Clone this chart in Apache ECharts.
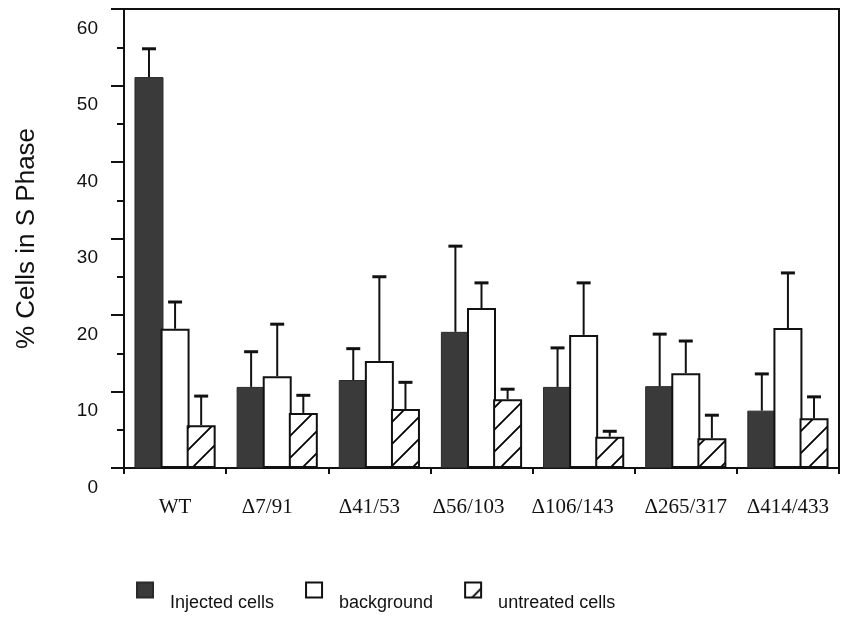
<!DOCTYPE html>
<html lang="en">
<head>
    <meta charset="UTF-8">
    <title>% Cells in S Phase</title>
    <script src="https://cdn.jsdelivr.net/npm/echarts@6/dist/echarts.min.js"></script>
    <style>
        html,body{margin:0;padding:0;background:#fff;}
        #main{width:843px;height:627px;}
    </style>
</head>
<body>
<div id="main"></div>
<script>
    var categories=['WT','\u03947/91','\u039441/53','\u039456/103','\u0394106/143','\u0394265/317','\u0394414/433'];
    var injected=[51.1,10.6,11.5,17.8,10.6,10.7,7.5];
    var injectedErr=[3.7,4.6,4.1,11.2,5.1,6.8,4.8];
    var background=[18.2,12.0,14.0,20.9,17.4,12.4,18.3];
    var backgroundErr=[3.5,6.8,11.0,3.3,6.8,4.2,7.2];
    var untreated=[5.6,7.2,7.7,9.0,4.1,3.9,6.5];
    var untreatedErr=[3.8,2.3,3.5,1.3,0.7,3.0,2.8];
    var yTicks=[0,10,20,30,40,50,60];

    // hatch tile "/"
    function hatch(){
        var s=22;
        var c=document.createElement('canvas');
        c.width=s;c.height=s;
        var ctx=c.getContext('2d');
        ctx.fillStyle='#fff';
        ctx.fillRect(0,0,s,s);
        ctx.strokeStyle='#000';
        ctx.lineWidth=1.8;
        ctx.beginPath();
        ctx.moveTo(-2,2);ctx.lineTo(2,-2);
        ctx.moveTo(0,s);ctx.lineTo(s,0);
        ctx.moveTo(s-2,s+2);ctx.lineTo(s+2,s-2);
        ctx.stroke();
        return c;
    }

    var barWidth=29, barGap=-0.1;
    var step=barWidth*(1+barGap);

    // labels in the scan sit a little left of the group centre for the middle groups
    var labelNudge={1:'l20',2:'l20',3:'l26',4:'l22'};

    function errSeries(vals,errs,offset){
        var data=[];
        for(var i=0;i<vals.length;i++){
            data.push([i,vals[i],vals[i]+errs[i]]);
        }
        return {
            type:'custom',
            silent:true,
            z:5,
            data:data,
            renderItem:function(params,api){
                var lo=api.coord([api.value(0),api.value(1)]);
                var hi=api.coord([api.value(0),api.value(2)]);
                var x=lo[0]+offset;
                return {
                    type:'group',
                    children:[
                        {type:'line',shape:{x1:x,y1:lo[1],x2:x,y2:hi[1]},style:{stroke:'#111',lineWidth:2}},
                        {type:'line',shape:{x1:x-7,y1:hi[1],x2:x+7,y2:hi[1]},style:{stroke:'#111',lineWidth:3}}
                    ]
                };
            }
        };
    }

    var serif='Liberation Serif, Times New Roman, serif';
    var myCharts=echarts.init(document.getElementById('main'));
    var option={
        animation:false,
        textStyle:{fontFamily:'Liberation Sans, Arial, sans-serif',color:'#000'},
        grid:{
            left:124,
            right:4,
            top:9,
            bottom:159,
            show:true,
            borderColor:'#111',
            borderWidth:2
        },
        legend:{
            left:131,
            top:559,
            itemWidth:16,
            itemHeight:15,
            itemGap:31,
            icon:'rect',
            selectedMode:false,
            // text sits lower than the boxes in the scan: push it to a second line
            formatter:function(name){return '\n'+name;},
            textStyle:{fontSize:18,color:'#111',lineHeight:26,padding:[0,0,0,12]},
            data:['Injected cells','background','untreated cells']
        },
        xAxis:{
            type:'category',
            data:categories,
            boundaryGap:true,
            axisLine:{lineStyle:{color:'#111',width:2}},
            axisTick:{show:true,interval:0,length:6,inside:false,lineStyle:{color:'#111',width:2}},
            axisLabel:{
                interval:0,
                margin:29,
                fontSize:21,
                fontFamily:serif,
                color:'#111',
                formatter:function(v,i){
                    return labelNudge[i]?'{'+labelNudge[i]+'|'+v+'}':v;
                },
                rich:{
                    l20:{fontSize:21,fontFamily:serif,color:'#111',padding:[0,20,0,0]},
                    l22:{fontSize:21,fontFamily:serif,color:'#111',padding:[0,22,0,0]},
                    l26:{fontSize:21,fontFamily:serif,color:'#111',padding:[0,26,0,0]}
                }
            }
        },
        yAxis:{
            type:'value',
            min:0,
            max:60,
            interval:10,
            name:'% Cells in S Phase',
            nameLocation:'middle',
            nameGap:84,
            nameRotate:90,
            nameTextStyle:{fontSize:26,color:'#111'},
            axisLine:{show:true,lineStyle:{color:'#111',width:2}},
            axisTick:{show:true,length:13,lineStyle:{color:'#111',width:2}},
            minorTick:{show:true,splitNumber:2,length:7,lineStyle:{color:'#111',width:2}},
            splitLine:{show:false},
            axisLabel:{
                margin:26,
                fontSize:19,
                color:'#111',
                verticalAlign:'top',
                padding:[10,0,0,0],
                formatter:function(v){return yTicks.indexOf(v)>=0?String(v):'';}
            }
        },
        series:[
            {
                name:'Injected cells',
                type:'bar',
                data:injected,
                barWidth:barWidth,
                barGap:(barGap*100)+'%',
                itemStyle:{color:'#3a3a3a',borderColor:'#2a2a2a',borderWidth:1}
            },
            {
                name:'background',
                type:'bar',
                data:background,
                barWidth:barWidth,
                itemStyle:{color:'#fff',borderColor:'#111',borderWidth:2}
            },
            {
                name:'untreated cells',
                type:'bar',
                data:untreated,
                barWidth:barWidth,
                itemStyle:{color:{image:hatch(),repeat:'repeat'},borderColor:'#111',borderWidth:2}
            },
            errSeries(injected,injectedErr,-step),
            errSeries(background,backgroundErr,0),
            errSeries(untreated,untreatedErr,step)
        ]
    };
    myCharts.setOption(option);
</script>
</body>
</html>
